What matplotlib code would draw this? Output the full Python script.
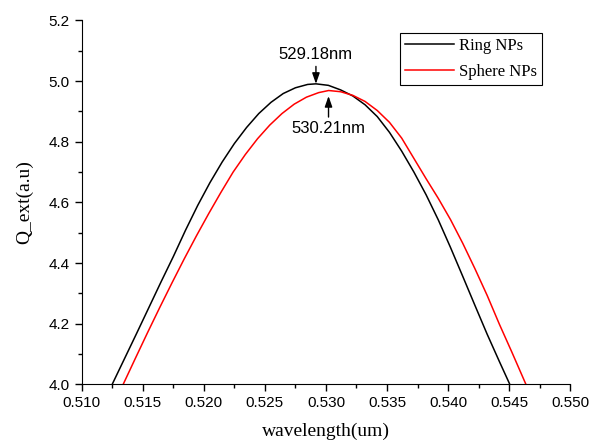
import numpy as np
import matplotlib
matplotlib.use('Agg')
import matplotlib.pyplot as plt
from matplotlib.ticker import MultipleLocator, FormatStrFormatter

# (wavelength in um, Q_ext in a.u.)
ring_x = [0.5125, 0.5135, 0.5145, 0.5155, 0.5165, 0.5175, 0.5185, 0.5195,
          0.5205, 0.5215, 0.5225, 0.5235, 0.5245, 0.5255, 0.5265, 0.5275,
          0.5285, 0.52918, 0.5302, 0.5312, 0.5322, 0.5332, 0.5342, 0.5352,
          0.5362, 0.5372, 0.5382, 0.5392, 0.5402, 0.5412, 0.5422, 0.5432,
          0.5442, 0.54505]
ring_y = [4.000, 4.084, 4.168, 4.253, 4.338, 4.421, 4.508, 4.590,
          4.665, 4.733, 4.794, 4.847, 4.893, 4.930, 4.959, 4.978,
          4.989, 4.991, 4.986, 4.971, 4.951, 4.922, 4.883, 4.831,
          4.769, 4.700, 4.625, 4.542, 4.451, 4.356, 4.260, 4.165,
          4.075, 4.000]

sphere_x = [0.5134, 0.5144, 0.5154, 0.5164, 0.5174, 0.5184, 0.5194, 0.5204,
            0.5214, 0.5224, 0.5234, 0.5244, 0.5254, 0.5264, 0.5274, 0.5284,
            0.5294, 0.53022, 0.5312, 0.5322, 0.5332, 0.5342, 0.5352, 0.5362,
            0.5372, 0.5382, 0.5392, 0.5402, 0.5412, 0.5422, 0.5432, 0.5442,
            0.5452, 0.54637]
sphere_y = [4.000, 4.086, 4.171, 4.254, 4.335, 4.414, 4.490, 4.563,
            4.633, 4.700, 4.758, 4.810, 4.855, 4.893, 4.924, 4.947,
            4.962, 4.969, 4.965, 4.953, 4.933, 4.903, 4.864, 4.812,
            4.745, 4.678, 4.613, 4.543, 4.465, 4.381, 4.293, 4.198,
            4.108, 4.000]

peak_labels = ["529.18nm", "530.21nm"]
peak_x = [0.52918, 0.53021]
peak_y = [4.991, 4.969]

sans = "Liberation Sans"
serif = "Liberation Serif"

fig = plt.figure(figsize=(5.94, 4.45), dpi=100)
ax = fig.add_axes([0.1375, 0.1364, 0.8225, 0.8176])

ax.plot(ring_x, ring_y, color="black", linewidth=1.1, label="Ring NPs")
ax.plot(sphere_x, sphere_y, color="red", linewidth=1.1, label="Sphere NPs")

ax.set_xlim(0.510, 0.550)
ax.set_ylim(4.0, 5.2)
ax.xaxis.set_major_locator(MultipleLocator(0.005))
ax.xaxis.set_minor_locator(MultipleLocator(0.0025))
ax.yaxis.set_major_locator(MultipleLocator(0.2))
ax.yaxis.set_minor_locator(MultipleLocator(0.1))
ax.xaxis.set_major_formatter(FormatStrFormatter("%.3f"))
ax.yaxis.set_major_formatter(FormatStrFormatter("%.1f"))

for s in ["top", "right"]:
    ax.spines[s].set_visible(False)
ax.tick_params(which="major", direction="out", length=5, width=1, labelsize=11)
ax.tick_params(which="minor", direction="out", length=3, width=1)
for lab in ax.get_xticklabels() + ax.get_yticklabels():
    lab.set_fontfamily(sans)

ax.set_xlabel("wavelength(um)", fontsize=14, fontfamily=serif, labelpad=9)
ax.set_ylabel("Q_ext(a.u)", fontsize=14, fontfamily=serif, labelpad=11)

# peak markers
arrow = dict(arrowstyle="-|>,head_length=0.8,head_width=0.28", color="black",
             lw=1, mutation_scale=8, shrinkA=1)
ax.annotate(peak_labels[0], xy=(peak_x[0], peak_y[0]), xytext=(peak_x[0], 5.087),
            ha="center", va="center", fontsize=12, fontfamily=sans,
            arrowprops=dict(arrow, shrinkB=0))
ax.annotate(peak_labels[1], xy=(peak_x[1], peak_y[1]), xytext=(peak_x[1], 4.843),
            ha="center", va="center", fontsize=12, fontfamily=sans,
            arrowprops=dict(arrow, shrinkB=4))

leg = ax.legend(loc="upper right", bbox_to_anchor=(0.943, 0.965), borderaxespad=0,
                fancybox=False, edgecolor="black", framealpha=1,
                handlelength=2.9, handletextpad=0.35, borderpad=0.3,
                labelspacing=0.6, prop={"family": serif, "size": 12})
leg.get_frame().set_linewidth(0.8)

fig.savefig("out.png", dpi=100)
